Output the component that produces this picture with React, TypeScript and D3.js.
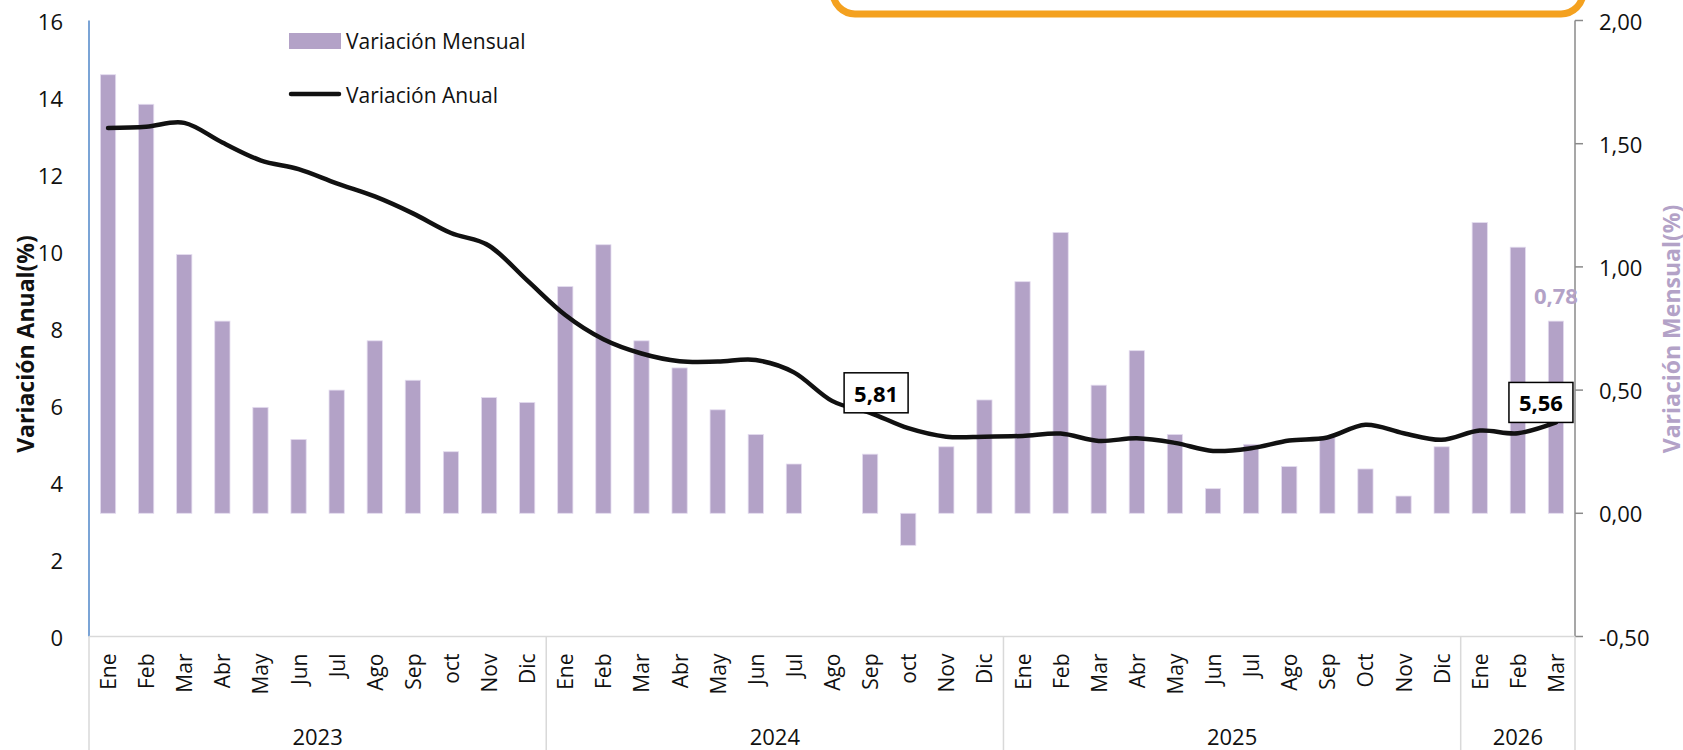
import React from "react";
import * as d3 from "d3";

const months: string[] = [
  "Ene","Feb","Mar","Abr","May","Jun","Jul","Ago","Sep","oct","Nov","Dic",
  "Ene","Feb","Mar","Abr","May","Jun","Jul","Ago","Sep","oct","Nov","Dic",
  "Ene","Feb","Mar","Abr","May","Jun","Jul","Ago","Sep","Oct","Nov","Dic",
  "Ene","Feb","Mar",
];
const years: { label: string; count: number }[] = [
  { label: "2023", count: 12 },
  { label: "2024", count: 12 },
  { label: "2025", count: 12 },
  { label: "2026", count: 3 },
];
const mensual: number[] = [
  1.78, 1.66, 1.05, 0.78, 0.43, 0.30, 0.50, 0.70, 0.54, 0.25, 0.47, 0.45,
  0.92, 1.09, 0.70, 0.59, 0.42, 0.32, 0.20, 0.00, 0.24, -0.13, 0.27, 0.46,
  0.94, 1.14, 0.52, 0.66, 0.32, 0.10, 0.28, 0.19, 0.31, 0.18, 0.07, 0.27,
  1.18, 1.08, 0.78,
];
const anual: number[] = [
  13.21, 13.24, 13.34, 12.83, 12.37, 12.14, 11.77, 11.43, 10.99, 10.48, 10.15, 9.25,
  8.35, 7.72, 7.35, 7.15, 7.14, 7.18, 6.86, 6.12, 5.81, 5.41, 5.19, 5.19,
  5.21, 5.27, 5.08, 5.15, 5.03, 4.82, 4.89, 5.09, 5.17, 5.50, 5.28, 5.11,
  5.35, 5.28, 5.56,
];
const leftTicks: number[] = [0, 2, 4, 6, 8, 10, 12, 14, 16];
const rightTicks: number[] = [-0.5, 0, 0.5, 1, 1.5, 2];
const labelledAnual: number[] = [20, 38];
const labelledMensual: number[] = [38];

const FONT = "'Open Sans', 'Noto Sans', sans-serif";
const PURPLE = "#b3a2c7";
const fmt = (v: number, d: number) => v.toFixed(d).replace(".", ",");

export default function App() {
  const W = 1683, H = 750;
  const left = 89, right = 1575, top = 20.5, bottom = 636.5;
  const idx = months.map((_, i) => i);
  const x = d3.scaleBand<number>().domain(idx).range([left, right]).padding(0);
  const bw = x.bandwidth();
  const cx = (i: number) => (x(i) as number) + bw / 2;
  const yL = d3.scaleLinear().domain([0, 16]).range([bottom, top]);
  const yR = d3.scaleLinear().domain([-0.5, 2]).range([bottom, top]);
  const barW = bw * 0.4;

  const line = d3
    .line<number>()
    .x((_, i) => cx(i))
    .y((d) => yL(d))
    .curve(d3.curveCatmullRom.alpha(0));

  const bounds: number[] = [0];
  years.forEach((y) => bounds.push(bounds[bounds.length - 1] + y.count));
  const bx = (k: number) => (k >= months.length ? right : (x(k) as number));

  return (
    <svg
      width={W}
      height={H}
      style={{ position: "fixed", left: 0, top: 0, background: "#fff" }}
      fontFamily={FONT}
    >
      {/* orange frame at top */}
      <rect x={833} y={-60} width={750} height={74} rx={22} ry={22} fill="none" stroke="#F4A11F" strokeWidth={7} />

      {/* bars */}
      {mensual.map((v, i) => (
        <rect
          key={"b" + i}
          x={cx(i) - barW / 2}
          y={Math.min(yR(v), yR(0))}
          width={barW}
          height={Math.abs(yR(v) - yR(0))}
          fill={PURPLE}
          stroke="#e4dcef"
          strokeWidth={0.8}
        />
      ))}

      {/* line */}
      <path d={line(anual) || ""} fill="none" stroke="#111" strokeWidth={4.5} strokeLinecap="round" strokeLinejoin="round" />

      {/* left axis */}
      <line x1={left} x2={left} y1={top} y2={bottom} stroke="#4F86C9" strokeWidth={1.5} />
      {leftTicks.map((t) => (
        <text key={"l" + t} x={63} y={yL(t)} textAnchor="end" dominantBaseline="central" fontSize={22} fill="#111">
          {t}
        </text>
      ))}
      <text
        transform={`translate(25,344) rotate(-90)`}
        textAnchor="middle"
        dominantBaseline="central"
        fontSize={23}
        fontWeight="bold"
        fill="#111"
      >
        Variación Anual(%)
      </text>

      {/* right axis */}
      <line x1={right} x2={right} y1={top} y2={bottom} stroke="#8a8a8a" strokeWidth={1.5} />
      {rightTicks.map((t) => (
        <g key={"r" + t}>
          <line x1={right} x2={right + 8} y1={yR(t)} y2={yR(t)} stroke="#8a8a8a" strokeWidth={1.5} />
          <text x={1599} y={yR(t)} dominantBaseline="central" fontSize={22} fill="#111">
            {fmt(t, 2)}
          </text>
        </g>
      ))}
      <text
        transform={`translate(1671,329) rotate(-90)`}
        textAnchor="middle"
        dominantBaseline="central"
        fontSize={23}
        fontWeight="bold"
        fill={PURPLE}
      >
        Variación Mensual(%)
      </text>

      {/* category axis */}
      <line x1={left} x2={right} y1={bottom} y2={bottom} stroke="#d9d9d9" strokeWidth={1.5} />
      {bounds.map((k) => (
        <line key={"s" + k} x1={bx(k)} x2={bx(k)} y1={bottom} y2={H} stroke="#d9d9d9" strokeWidth={1.5} />
      ))}
      {months.map((m, i) => (
        <text
          key={"m" + i}
          transform={`translate(${cx(i)},${bottom + 17}) rotate(-90)`}
          textAnchor="end"
          dominantBaseline="central"
          fontSize={21}
          fill="#111"
        >
          {m}
        </text>
      ))}
      {years.map((y, j) => (
        <text
          key={"y" + j}
          x={(bx(bounds[j]) + bx(bounds[j + 1])) / 2}
          y={736}
          textAnchor="middle"
          dominantBaseline="central"
          fontSize={22}
          fill="#111"
        >
          {y.label}
        </text>
      ))}

      {/* data labels for annual */}
      {labelledAnual.map((i, k) => {
        const shift = k === 0 ? 6 : -15;
        const bxc = cx(i) + shift;
        const py = yL(anual[i]);
        return (
          <g key={"la" + i}>
            <rect x={bxc - 32} y={py - 40} width={64} height={40} fill="#fff" stroke="#000" strokeWidth={1.5} />
            <text x={bxc} y={py - 20} textAnchor="middle" dominantBaseline="central" fontSize={22} fontWeight="bold" fill="#000">
              {fmt(anual[i], 2)}
            </text>
          </g>
        );
      })}
      {labelledMensual.map((i) => (
        <text
          key={"lm" + i}
          x={cx(i)}
          y={yR(mensual[i]) - 26}
          textAnchor="middle"
          dominantBaseline="central"
          fontSize={22}
          fontWeight="bold"
          fill={PURPLE}
        >
          {fmt(mensual[i], 2)}
        </text>
      ))}

      {/* legend */}
      <rect x={289} y={33} width={52} height={16} fill={PURPLE} />
      <text x={346} y={41} dominantBaseline="central" fontSize={21} fill="#111">
        Variación Mensual
      </text>
      <line x1={291} x2={339} y1={94} y2={94} stroke="#111" strokeWidth={4.5} strokeLinecap="round" />
      <text x={346} y={95} dominantBaseline="central" fontSize={21} fill="#111">
        Variación Anual
      </text>
    </svg>
  );
}
